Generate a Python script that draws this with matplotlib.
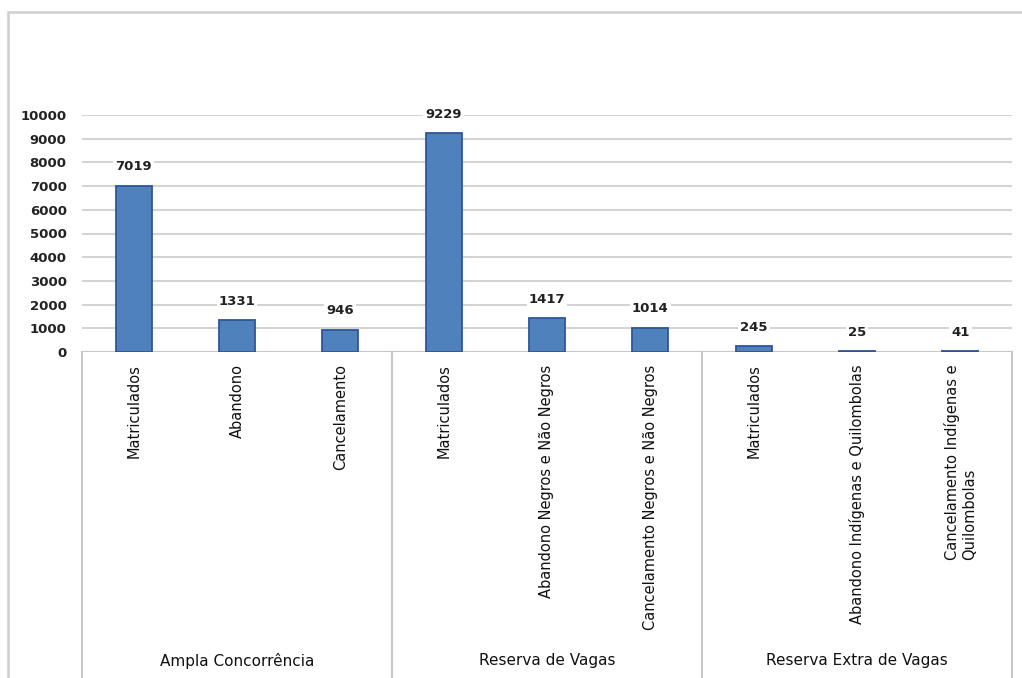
import matplotlib
matplotlib.use("Agg")
import matplotlib.pyplot as plt
from matplotlib.lines import Line2D
from matplotlib.patches import Rectangle

plt.rcParams['font.family'] = ['DejaVu Sans']

# Dados por grupo de ingresso
grupos = ["Ampla Concorrência", "Reserva de Vagas", "Reserva Extra de Vagas"]
categorias = [
    "Matriculados", "Abandono", "Cancelamento",
    "Matriculados", "Abandono Negros e Não Negros", "Cancelamento Negros e Não Negros",
    "Matriculados", "Abandono Indígenas e Quilombolas", "Cancelamento Indígenas e\nQuilombolas",
]
valores = [7019, 1331, 946, 9229, 1417, 1014, 245, 25, 41]
yticks = list(range(0, 10001, 1000))

W, H = 1022, 678
fig = plt.figure(figsize=(W / 100, H / 100), dpi=100)

# area util do grafico (pixels)
x0, x1 = 82, 1012
y_top, y_zero = 115, 352
ax = fig.add_axes([x0 / W, 1 - y_zero / H, (x1 - x0) / W, (y_zero - y_top) / H])

xs = list(range(len(valores)))
bars = ax.bar(xs, valores, width=0.35, color="#4F81BD", edgecolor="#2F5597",
              linewidth=1.3, zorder=3)
for b, v in zip(bars, valores):
    ax.annotate(str(v), (b.get_x() + b.get_width() / 2, v), xytext=(0, 9),
                textcoords="offset points", ha="center", va="bottom",
                fontsize=9.5, fontweight="bold", color="#222222",
                annotation_clip=False, zorder=4,
                bbox=dict(facecolor="white", edgecolor="none", pad=1.5))

ax.set_xlim(-0.5, len(valores) - 0.5)
ax.set_ylim(0, 10000)
ax.set_yticks(yticks)
ax.set_yticklabels([str(t) for t in yticks], fontsize=9.5, fontweight="bold",
                   color="#222222")
ax.yaxis.grid(True, color="#d4d4d4", linewidth=1.5, zorder=0)
ax.set_axisbelow(True)
ax.tick_params(axis="y", length=0, pad=11)
ax.tick_params(axis="x", length=0, pad=9)
for s in ax.spines.values():
    s.set_visible(False)

ax.set_xticks(xs)
ax.set_xticklabels(categorias, rotation=90, va="top", ha="center",
                   multialignment="left", fontsize=10.5, color="#111111")

# eixo de categorias: linha base e separadores dos grupos
ax.axhline(0, color="#c8c8c8", linewidth=1.5, zorder=2)
for k in range(len(grupos) + 1):
    xb = k * 3 - 0.5
    ax.add_line(Line2D([xb, xb], [0, -1.0e6], color="#c8c8c8", linewidth=1.5,
                       clip_on=False, transform=ax.transData))

for k, g in enumerate(grupos):
    fig.text((x0 + (k * 3 + 1.5) * (x1 - x0) / 9) / W, 1 - 661 / H, g,
             ha="center", va="center", fontsize=11, color="#111111")

# moldura externa do grafico
fig.patches.append(Rectangle((8 / W, -0.1), 1.2, 1 - 12 / H + 0.1,
                             transform=fig.transFigure, fill=False,
                             edgecolor="#cfcfcf", linewidth=1.8))

fig.savefig("out.png", dpi=100)
